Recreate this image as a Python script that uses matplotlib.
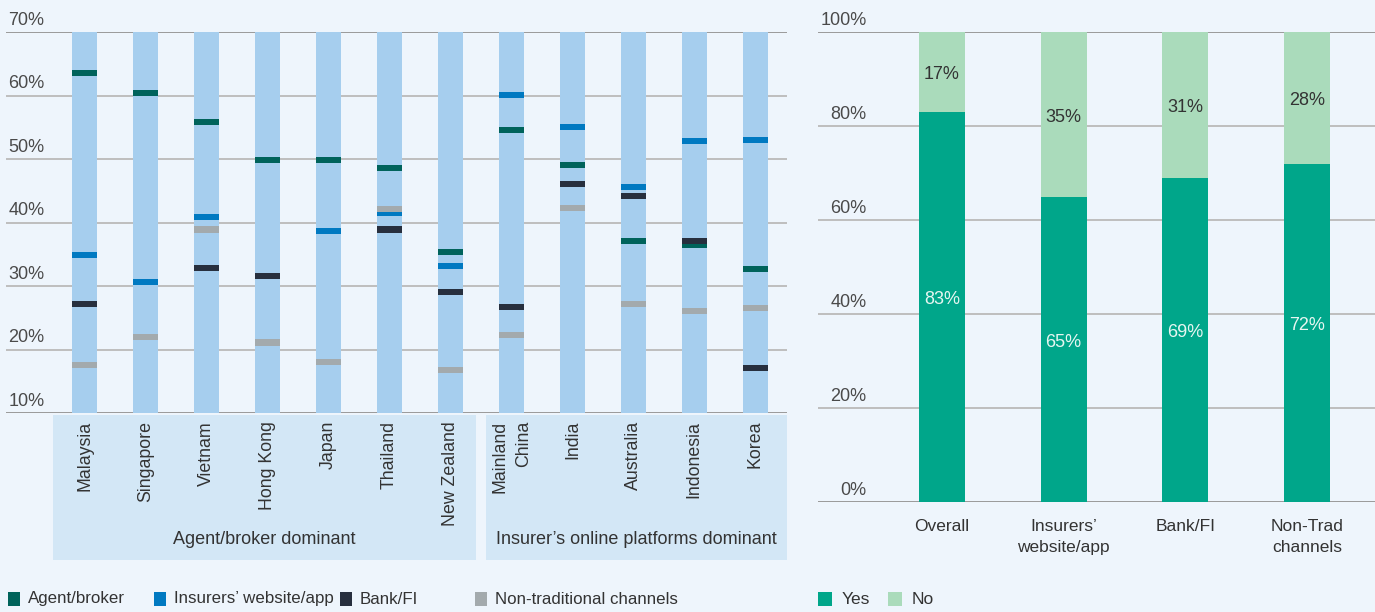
import matplotlib
matplotlib.use('Agg')
import matplotlib.pyplot as plt
import numpy as np
from matplotlib.patches import Rectangle
from matplotlib.transforms import blended_transform_factory, ScaledTranslation

nan = np.nan
# ---------------- data ----------------
countries = ['Malaysia', 'Singapore', 'Vietnam', 'Hong Kong', 'Japan', 'Thailand',
             'New Zealand', 'Mainland\nChina', 'India', 'Australia', 'Indonesia', 'Korea']
groups = ['Agent/broker dominant', 'Insurer\u2019s online platforms dominant']
group_sizes = [7, 5]
agent_broker = [63.6, 60.4, 55.9, 49.9, 49.9, 48.6, 35.4, 54.6, 49.0, 37.1, 36.5, 32.7]
website_app = [34.9, 30.7, 40.8, nan, 38.6, 41.5, 33.2, 60.1, 55.1, 45.6, 52.9, 53.0]
bank_fi = [27.2, nan, 32.9, 31.6, nan, 38.9, 29.1, 26.7, 46.0, 44.2, 37.1, 17.1]
non_trad = [17.5, 21.9, 38.9, 21.1, 18.1, 42.2, 16.7, 22.3, 42.3, 27.1, 26.1, 26.6]
left_series = ['Agent/broker', 'Insurers\u2019 website/app', 'Bank/FI', 'Non-traditional channels']
left_ticks = [10, 20, 30, 40, 50, 60, 70]

right_cats = ['Overall', 'Insurers\u2019\nwebsite/app', 'Bank/FI', 'Non-Trad\nchannels']
yes_vals = [83, 65, 69, 72]
no_vals = [17, 35, 31, 28]
right_series = ['Yes', 'No']
right_ticks = [0, 20, 40, 60, 80, 100]

# ---------------- style ----------------
BG = '#EEF5FC'
BAR_BG = '#A6CEEE'
BAND = '#D3E7F6'
C_AGENT = '#00635B'
C_WEB = '#0079C1'
C_BANK = '#272F3E'
C_NT = '#A3AAAD'
C_YES = '#00A68A'
C_NO = '#AADBBB'
TXT = '#333333'
TICK = '#4A4A4A'
GRID_IN = '#BEBEBE'
GRID_OUT = '#9A9A9A'

plt.rcParams['font.family'] = ['Liberation Sans', 'DejaVu Sans']

W, H = 1375, 612
fig = plt.figure(figsize=(W / 100, H / 100), dpi=100, facecolor=BG)

def fx(px):
    return px / W

def fy(py):
    return 1 - py / H

up = ScaledTranslation(0, 2.5 / 72, fig.dpi_scale_trans)

# ---------------- left chart ----------------
axL = fig.add_axes([fx(6), fy(413), fx(787) - fx(6), fy(32) - fy(413)], facecolor=BG)
x = np.arange(len(countries))
bw = 0.41
lo, hi = left_ticks[0], left_ticks[-1]
axL.set_xlim(-1.29, 11.52)
axL.set_ylim(lo, hi)
trYL = blended_transform_factory(axL.transAxes, axL.transData) + up
for t in left_ticks:
    col = GRID_OUT if t in (lo, hi) else GRID_IN
    axL.axhline(t, color=col, lw=1.4, zorder=0)
    axL.text(0.003, t, f'{t}%', transform=trYL,
             ha='left', va='bottom', fontsize=13, color=TICK)
axL.bar(x, hi - lo, bottom=lo, width=bw, color=BAR_BG, zorder=1)
mh = 0.95
for vals, col, z in [(agent_broker, C_AGENT, 2), (website_app, C_WEB, 3),
                     (bank_fi, C_BANK, 4), (non_trad, C_NT, 5)]:
    v = np.array(vals, dtype=float)
    m = ~np.isnan(v)
    axL.bar(x[m], mh, bottom=v[m] - mh / 2, width=bw, color=col, zorder=z)
for s in axL.spines.values():
    s.set_visible(False)
axL.set_xticks([])
axL.set_yticks([])

# category band
trB = blended_transform_factory(axL.transData, fig.transFigure)
start = 0
for i, n in enumerate(group_sizes):
    left = start - 0.52 if i == 0 else start - 0.42
    right = start + n - 1 + 0.42 if i == 0 else 11.52
    fig.add_artist(Rectangle((left, fy(560)), right - left, fy(415) - fy(560),
                             transform=trB, facecolor=BAND, edgecolor='none', zorder=0))
    fig.text((left + right) / 2, fy(540), groups[i], transform=trB, ha='center', va='center',
             fontsize=13, color=TXT)
    start += n
for xi, name in zip(x, countries):
    fig.text(xi, fy(421), name, transform=trB, rotation=90, ha='center', va='top',
             multialignment='right', fontsize=12.8, color=TXT, linespacing=1.5)

# left legend
leg_cols = [C_AGENT, C_WEB, C_BANK, C_NT]
leg_x = [8, 154, 340, 475]
for lx, col, lab in zip(leg_x, leg_cols, left_series):
    fig.add_artist(Rectangle((fx(lx), fy(606)), fx(12), fy(592) - fy(606),
                             transform=fig.transFigure, facecolor=col, edgecolor='none'))
    fig.text(fx(lx + 20), fy(599), lab, ha='left', va='center', fontsize=12.2, color=TXT)

# ---------------- right chart ----------------
axR = fig.add_axes([fx(818), fy(502), 1 - fx(818), fy(32) - fy(502)], facecolor=BG)
xr = np.arange(len(right_cats))
bwr = 0.38
axR.set_xlim(-1.02, 3.56)
axR.set_ylim(right_ticks[0], right_ticks[-1])
trYR = blended_transform_factory(axR.transAxes, axR.transData) + up
for t in right_ticks:
    col = GRID_OUT if t in (right_ticks[0], right_ticks[-1]) else GRID_IN
    axR.axhline(t, color=col, lw=1.4, zorder=0)
    axR.text(0.087, t, f'{t}%', transform=trYR,
             ha='right', va='bottom', fontsize=13, color=TICK)
axR.bar(xr, yes_vals, width=bwr, color=C_YES, zorder=2)
axR.bar(xr, no_vals, bottom=yes_vals, width=bwr, color=C_NO, zorder=2)
for xi, yv, nv in zip(xr, yes_vals, no_vals):
    axR.text(xi, yv / 2 + 1.5, f'{yv}%', ha='center', va='center', fontsize=13, color='#E6F6F1', zorder=3)
    axR.text(xi, yv + nv / 2 - 0.6, f'{nv}%', ha='center', va='center', fontsize=13, color=TXT, zorder=3)
for s in axR.spines.values():
    s.set_visible(False)
axR.set_yticks([])
axR.set_xticks(xr)
axR.set_xticklabels(right_cats, fontsize=12.5, color=TXT, linespacing=1.5)
axR.tick_params(axis='x', length=0, pad=12)

# right legend
for lx, col, lab in zip([818, 888], [C_YES, C_NO], right_series):
    fig.add_artist(Rectangle((fx(lx), fy(606)), fx(14), fy(592) - fy(606),
                             transform=fig.transFigure, facecolor=col, edgecolor='none'))
    fig.text(fx(lx + 24), fy(599), lab, ha='left', va='center', fontsize=12.5, color=TXT)

fig.savefig('out.png', dpi=100, facecolor=BG)
